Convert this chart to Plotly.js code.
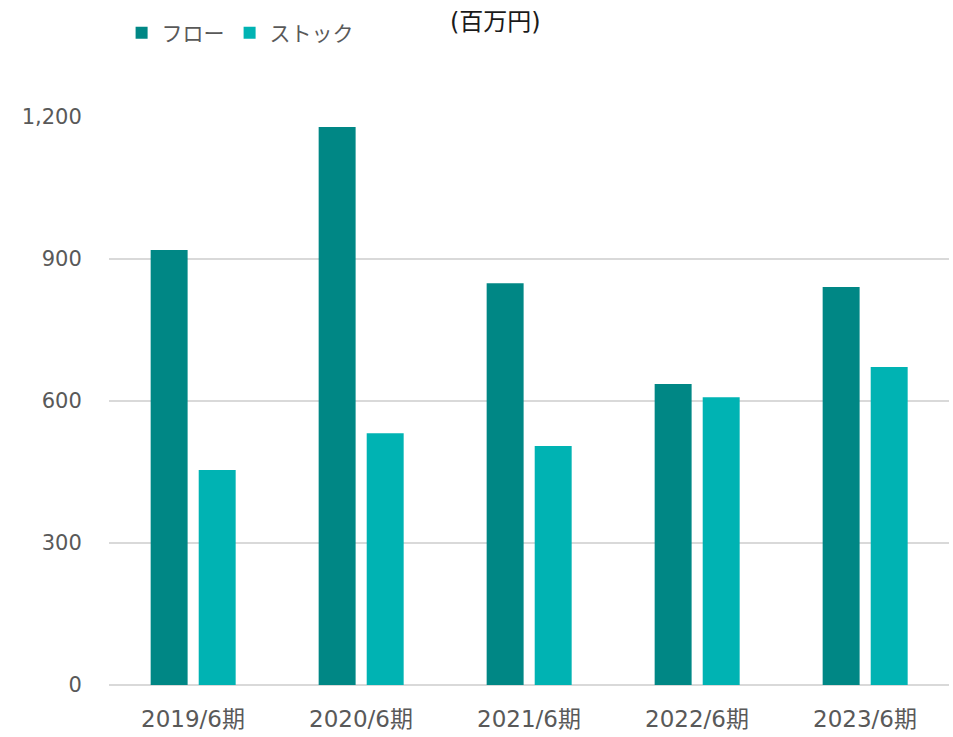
<!DOCTYPE html>
<html>
<head>
<meta charset="utf-8">
<script src="https://cdn.plot.ly/plotly-3.0.1.min.js"></script>
<style>body{margin:0;padding:0;background:#fff;} #chart{width:953px;height:737px;}</style>
</head>
<body>
<div id="chart"></div>
<script>
const categories = ["2019/6期", "2020/6期", "2021/6期", "2022/6期", "2023/6期"];
const flowValues = [919, 1179, 849, 636, 841];
const stockValues = [454, 532, 505, 608, 672];
const seriesNames = ["フロー", "ストック"];
const yTicks = [0, 300, 600, 900, 1200];
const yTickLabels = ["0", "300", "600", "900", "1,200"];

const fontFam = "'DejaVu Sans', 'Noto Sans CJK JP', sans-serif";

const traces = [
  {type: "bar", name: seriesNames[0], x: categories, y: flowValues,
   marker: {color: "#008785"}, width: 0.22, offset: -0.252, hoverinfo: "skip"},
  {type: "bar", name: seriesNames[1], x: categories, y: stockValues,
   marker: {color: "#00B3B3"}, width: 0.22, offset: 0.034, hoverinfo: "skip"}
];

const layout = {
  width: 953, height: 737,
  margin: {l: 109, r: 4, t: 117, b: 52},
  paper_bgcolor: "#fff", plot_bgcolor: "#fff",
  barmode: "overlay",
  font: {family: fontFam, color: "#595959", size: 21},
  showlegend: true,
  legend: {orientation: "h", x: 0.015, xref: "paper", y: 0.955, yref: "container",
           yanchor: "middle", xanchor: "left", font: {size: 21, color: "#595959"},
           tracegroupgap: 0},
  xaxis: {type: "category", tickfont: {size: 23, color: "#595959"}, showgrid: false,
          ticks: "outside", ticklen: 13, tickcolor: "rgba(0,0,0,0)", showline: false, zeroline: false},
  yaxis: {range: [0, 1200], tickvals: yTicks, ticktext: yTickLabels,
          tickfont: {size: 21, color: "#595959"}, gridcolor: "#d9d9d9", gridwidth: 1.5,
          zeroline: true, zerolinecolor: "#d9d9d9", zerolinewidth: 1.5,
          ticks: "outside", ticklen: 22, tickcolor: "rgba(0,0,0,0)", showline: false},
  annotations: [{text: "(百万円)", xref: "paper", yref: "paper", x: (495-109)/840, y: (685-22)/568,
                 xanchor: "center", yanchor: "middle", showarrow: false,
                 font: {size: 24, color: "#1a1a1a", family: fontFam}}]
};

Plotly.newPlot("chart", traces, layout, {displayModeBar: false, staticPlot: true});
</script>
</body>
</html>
